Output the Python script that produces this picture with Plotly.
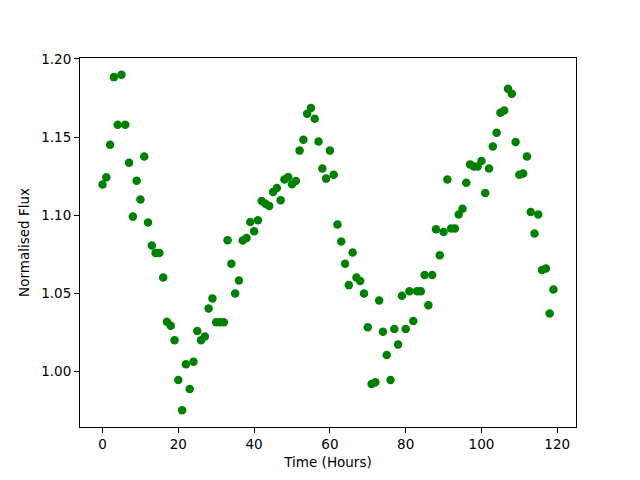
import plotly.graph_objects as go

hours = list(range(120))
flux = [
    1.1196, 1.1242, 1.1451, 1.1883, 1.1579, 1.1898, 1.1579, 1.1336, 1.0991, 1.1221,
    1.1100, 1.1376, 1.0953, 1.0806, 1.0759, 1.0759, 1.0602, 1.0319, 1.0293, 1.0200,
    0.9946, 0.9753, 1.0047, 0.9889, 1.0063, 1.0259, 1.0200, 1.0225, 1.0404, 1.0468,
    1.0315, 1.0315, 1.0315, 1.0840, 1.0689, 1.0500, 1.0583, 1.0838, 1.0855, 1.0957,
    1.0898, 1.0968, 1.1091, 1.1074, 1.1059, 1.1149, 1.1174, 1.1095, 1.1229, 1.1244,
    1.1198, 1.1219, 1.1413, 1.1483, 1.1649, 1.1685, 1.1617, 1.1472, 1.1298, 1.1234,
    1.1413, 1.1259, 1.0940, 1.0832, 1.0689, 1.0553, 1.0762, 1.0602, 1.0580, 1.0500,
    1.0283, 0.9921, 0.9932, 1.0455, 1.0255, 1.0106, 0.9946, 1.0272, 1.0174, 1.0485,
    1.0272, 1.0514, 1.0323, 1.0514, 1.0514, 1.0617, 1.0425, 1.0617, 1.0910, 1.0744,
    1.0893, 1.1228, 1.0915, 1.0915, 1.1004, 1.1042, 1.1208, 1.1325, 1.1312, 1.1312,
    1.1346, 1.1142, 1.1298, 1.1440, 1.1528, 1.1655, 1.1670, 1.1808, 1.1777, 1.1468,
    1.1259, 1.1266, 1.1376, 1.1021, 1.0883, 1.1004, 1.0649, 1.0659, 1.0372, 1.0525,
]

x_ticks = [0, 20, 40, 60, 80, 100, 120]
y_ticks = [1.00, 1.05, 1.10, 1.15, 1.20]

fig = go.Figure(go.Scatter(
    x=hours, y=flux, mode="markers",
    marker=dict(color="#008000", size=8.5, line=dict(width=0)),
))

xmin, xmax = min(hours), max(hours)
ymin, ymax = min(flux), max(flux)
xm = (xmax - xmin) * 0.05
ym = (ymax - ymin) * 0.05

axis_common = dict(
    showline=True, linecolor="black", linewidth=1, mirror=True,
    ticks="outside", ticklen=5, tickwidth=1, tickcolor="black",
    showgrid=False, zeroline=False, automargin=False,
    tickfont=dict(family="DejaVu Sans", size=13.5, color="black"),
)

fig.update_layout(
    width=640, height=480,
    margin=dict(l=72, r=72, t=50, b=61),
    paper_bgcolor="white", plot_bgcolor="white",
    showlegend=False,
    font=dict(family="DejaVu Sans", size=13.5, color="black"),
    xaxis=dict(range=[xmin - xm, xmax + xm], tickvals=x_ticks,
               title=dict(text="Time (Hours)", standoff=6,
                          font=dict(family="DejaVu Sans", size=13.5)),
               **axis_common),
    yaxis=dict(range=[ymin - ym, ymax + ym], tickvals=y_ticks, tickformat=".2f",
               title=dict(text="Normalised Flux", standoff=8,
                          font=dict(family="DejaVu Sans", size=13.5)),
               **axis_common),
)

fig.write_html("out.html")
